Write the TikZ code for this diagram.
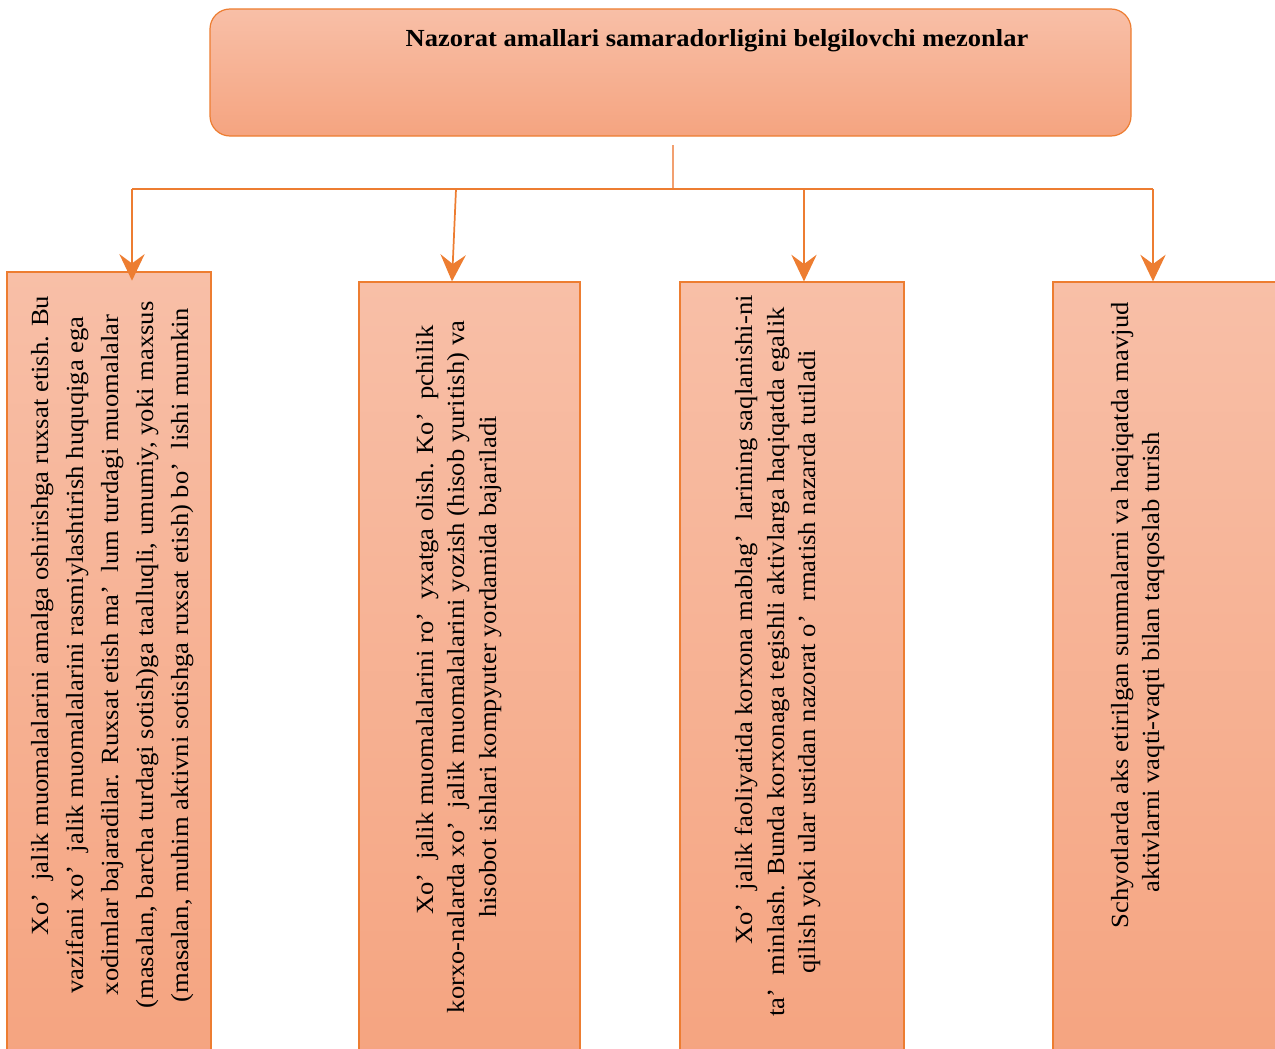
\documentclass[tikz,border=0pt]{standalone}
\usepackage{fontspec}
\setmainfont{Liberation Serif}[FakeStretch=1.08]
\usepackage{tikz}
\usetikzlibrary{arrows.meta,positioning,calc}
\definecolor{accentorange}{RGB}{237,125,49}
\definecolor{stemorange}{RGB}{242,160,112}
\definecolor{filltop}{RGB}{248,191,167}
\definecolor{fillbot}{RGB}{245,164,128}

\begin{document}
\begin{tikzpicture}[x=0.75pt, y=-0.75pt,
    box/.style={draw=accentorange, line width=0.9pt, top color=filltop, bottom color=fillbot, inner sep=0pt},
    boxtext/.style={rotate=90, align=center, inner sep=0pt},
    link/.style={draw=accentorange, line width=1.3pt},
    arr/.style={link, -{Stealth[length=20pt, width=19pt, inset=7pt]}}]
  \useasboundingbox (0,0) rectangle (1275,1049);
  % top box
  \node[box, rounded corners=15pt, minimum width=690.75pt, minimum height=95.25pt] (head) at (670.5,72.5) {};
  \node[font=\bfseries\fontsize{18.4}{22}\selectfont] (headtext) at (717,41) {Nazorat amallari samaradorligini belgilovchi mezonlar};
  % four criteria boxes
  \node[box, minimum width=153pt, minimum height=591pt] (b1) at (109,666) {};
  \node[box, minimum width=165.75pt, minimum height=583.5pt] (b2) at (469.5,671) {};
  \node[box, minimum width=168pt, minimum height=583.5pt] (b3) at (792,671) {};
  \node[box, minimum width=168.75pt, minimum height=583.5pt] (b4) at (1165.5,671) {};
  \node[boxtext, font=\fontsize{18.5}{26.25}\selectfont] (t1) at (112.5,655) {\hspace*{3.2em}Xo’ \ jalik muomalalarini amalga oshirishga ruxsat etish. Bu\\
    vazifani xo’ \ jalik muomalalarini rasmiylashtirish huquqiga ega\\
    xodimlar bajaradilar. Ruxsat etish ma’ \ lum turdagi muomalalar\\
    (masalan, barcha turdagi sotish)ga taalluqli, umumiy, yoki maxsus\\
    (masalan, muhim aktivni sotishga ruxsat etish) bo’ \ lishi mumkin};
  \node[boxtext, font=\fontsize{18.5}{23.6}\selectfont] (t2) at (459,667) {\hspace*{3.8em}Xo’ \ jalik muomalalarini ro’ \ yxatga olish. Ko’ \ pchilik\\
    korxo-nalarda xo’ \ jalik muomalalarini yozish (hisob yuritish) va\\
    hisobot ishlari kompyuter yordamida bajariladi};
  \node[boxtext, font=\fontsize{18.5}{23.6}\selectfont] (t3) at (778,662) {\hspace*{3.4em}Xo’ \ jalik faoliyatida korxona mablag’ \ larining saqlanishi-ni\\
    ta’ \ minlash. Bunda korxonaga tegishli aktivlarga haqiqatda egalik\\
    qilish yoki ular ustidan nazorat o’ \ rmatish nazarda tutiladi};
  \node[boxtext, font=\fontsize{18.5}{23.6}\selectfont] (t4) at (1138,662) {\hspace*{3.8em}Schyotlarda aks etirilgan summalarni va haqiqatda mavjud\\
    aktivlarni vaqti-vaqti bilan taqqoslab turish};
  % connectors
  \coordinate (s0) at (673,145);
  \coordinate (s1) at (673,189);
  \coordinate (j1) at (132,189);
  \coordinate (j2) at (456,189);
  \coordinate (j3) at (804,189);
  \coordinate (j4) at (1153,189);
  \draw[draw=stemorange, line width=1.1pt] (s0) -- (s1);
  \draw[link] (j1) -- (j4);
  \draw[arr, shorten >=-7pt] (j1) -- (j1 |- b1.north);
  \draw[arr] (j2) -- ([xshift=-3pt]j2 |- b2.north);
  \draw[arr] (j3) -- (j3 |- b3.north);
  \draw[arr] (j4) -- (j4 |- b4.north);
\end{tikzpicture}
\end{document}
